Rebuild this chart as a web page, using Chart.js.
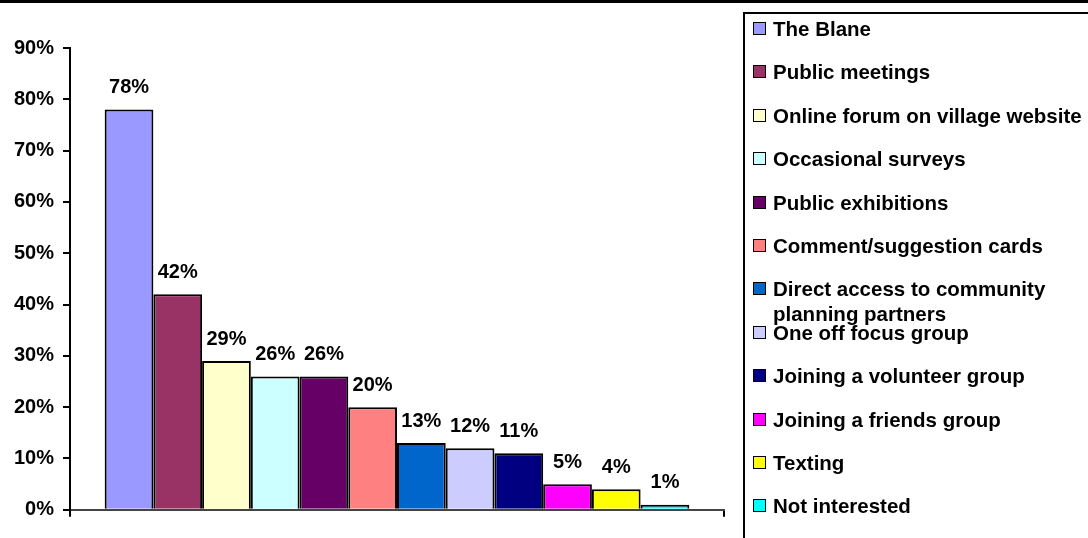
<!DOCTYPE html>
<html>
<head>
<meta charset="utf-8">
<script src="https://cdn.jsdelivr.net/npm/chart.js@4"></script>
<style>
  body { margin: 0; background: #fff; }
  #wrap { position: relative; width: 1088px; height: 538px; overflow: hidden; }
  #topline { position: absolute; left: 0; top: 0; width: 1088px; height: 3px; background: #000; }
  #legend {
    position: absolute; left: 743px; top: 12px; width: 360px; height: 560px;
    border: 2px solid #000; box-sizing: border-box;
    font: bold 20.5px "Liberation Sans", Arial, sans-serif; color: #000;
  }
  .item { position: absolute; left: 8px; line-height: 25px; white-space: nowrap; }
  .box { position: absolute; left: 0; top: 6px; width: 11px; height: 11px; border: 1.5px solid #000; }
  .txt { position: absolute; left: 20px; top: 0; }
</style>
</head>
<body>
<div id="wrap">
  <canvas id="myChart" width="1088" height="538"></canvas>
  <div id="topline"></div>
  <div id="legend"></div>
</div>
<script>
const labels = ['The Blane', 'Public meetings', 'Online forum on village website', 'Occasional surveys',
  'Public exhibitions', 'Comment/suggestion cards', 'Direct access to community planning partners',
  'One off focus group', 'Joining a volunteer group', 'Joining a friends group', 'Texting', 'Not interested'];
const values = [78, 42, 29, 26, 26, 20, 13, 12, 11, 5, 4, 1];
const colors = ['#9999FF', '#993366', '#FFFFCC', '#CCFFFF', '#660066', '#FF8080',
  '#0066CC', '#CCCCFF', '#000080', '#FF00FF', '#FFFF00', '#00FFFF'];
const yTicks = [0, 10, 20, 30, 40, 50, 60, 70, 80, 90];

const datasets = [];
for (let i = 0; i < labels.length; i++) {
  datasets.push({
    label: labels[i],
    data: [values[i]],
    backgroundColor: colors[i],
    borderColor: '#000',
    borderWidth: 2,
    borderSkipped: 'bottom'
  });
}

// value labels above each bar
const barLabels = {
  id: 'barLabels',
  afterDatasetsDraw(chart) {
    const ctx = chart.ctx;
    ctx.save();
    ctx.font = 'bold 20px "Liberation Sans", Arial, sans-serif';
    ctx.fillStyle = '#000';
    ctx.textAlign = 'center';
    ctx.textBaseline = 'middle';
    chart.data.datasets.forEach((ds, i) => {
      const bar = chart.getDatasetMeta(i).data[0];
      ctx.fillText(ds.data[0] + '%', bar.x, bar.y - 22);
    });
    ctx.restore();
  }
};

const ctx = document.getElementById('myChart').getContext('2d');
const myChart = new Chart(ctx, {
  type: 'bar',
  data: { labels: [''], datasets: datasets },
  options: {
    responsive: false,
    animation: false,
    layout: { padding: { left: 0, right: 364, top: 48, bottom: 14 } },
    plugins: { legend: { display: false }, tooltip: { enabled: false } },
    datasets: { bar: { barPercentage: 1, categoryPercentage: 0.894 } },
    scales: {
      x: {
        grid: { drawOnChartArea: false, color: '#000', lineWidth: 2, tickLength: 7, offset: true },
        border: { color: '#444', width: 2 },
        ticks: { display: true, font: { size: 1 }, color: 'rgba(0,0,0,0)' }
      },
      y: {
        min: 0, max: 90,
        afterBuildTicks: axis => { axis.ticks = yTicks.map(v => ({ value: v })); },
        afterFit: axis => { axis.width = 70; },
        grid: { drawOnChartArea: false, color: '#000', lineWidth: 2, tickLength: 7 },
        border: { color: '#000', width: 2 },
        ticks: {
          color: '#000',
          padding: 9,
          font: { family: '"Liberation Sans", Arial, sans-serif', size: 20, weight: 'bold' },
          callback: v => v + '%'
        }
      }
    }
  },
  plugins: [barLabels]
});

// legend built from the chart datasets
const legend = document.getElementById('legend');
const first = 'Direct access to community';
myChart.data.datasets.forEach((ds, i) => {
  const it = document.createElement('div');
  it.className = 'item';
  it.style.top = (2 + i * 43.4) + 'px';
  let txt = ds.label;
  if (txt.indexOf(first) === 0) txt = first + '<br>' + txt.slice(first.length + 1);
  it.innerHTML = '<span class="box" style="background:' + ds.backgroundColor + '"></span><span class="txt">' + txt + '</span>';
  legend.appendChild(it);
});
</script>
</body>
</html>
